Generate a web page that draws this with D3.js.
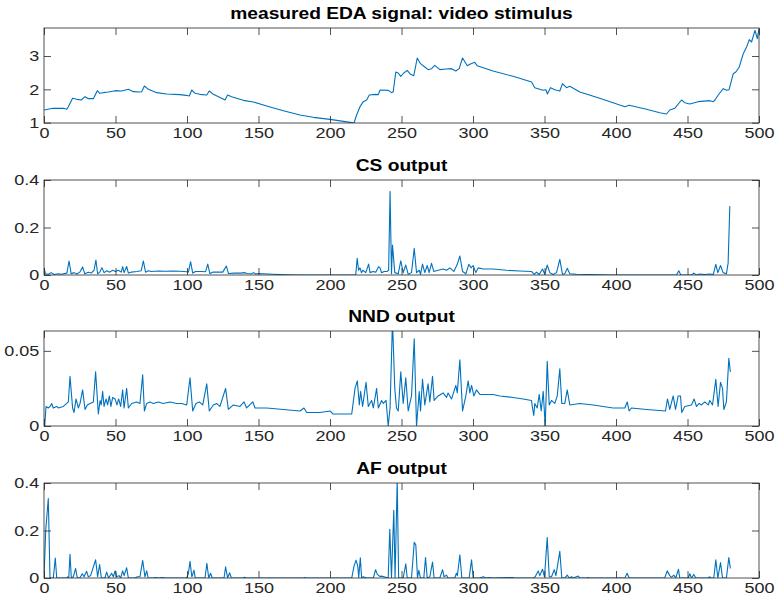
<!DOCTYPE html>
<html>
<head>
<meta charset="utf-8">
<script src="https://cdn.jsdelivr.net/npm/d3@7"></script>
<style>
  body { margin: 0; background: #fff; }
  text { font-family: "Liberation Sans", Arial, Helvetica, sans-serif; }
</style>
</head>
<body>
<svg id="chart"></svg>
<script>
// sample index vs. value
const edaPts = [[0,1.38],[6.5,1.43],[13.5,1.43],[15.9,1.40],[17,1.48],[20,1.73],[23,1.70],[26,1.68],[28.7,1.78],[31,1.72],[34.5,1.72],[37.3,1.96],[39,1.88],[41.5,1.90],[45,1.92],[49.7,1.96],[54.3,1.95],[59,2.0],[62.5,1.93],[67,1.92],[68.3,1.93],[70.2,2.10],[73,2.0],[78.8,1.90],[85.8,1.86],[95,1.84],[99.3,1.82],[101.6,1.80],[103.3,1.98],[105.6,1.88],[109,1.85],[113.8,1.83],[115.6,1.95],[118.4,1.85],[124.2,1.73],[126.6,1.68],[128.4,1.83],[131.2,1.78],[139.4,1.67],[146.4,1.62],[155.7,1.50],[167.4,1.36],[179,1.23],[188.3,1.16],[200,1.10],[215.2,1.00],[216.8,0.99],[218.6,1.23],[221,1.48],[223.3,1.63],[225.6,1.68],[227.5,1.83],[231.5,1.85],[233.8,1.84],[235,1.98],[240.8,1.97],[243,1.90],[244.2,1.93],[246,2.52],[247.7,2.49],[249.5,2.39],[251.6,2.49],[254,2.57],[256.3,2.45],[258.6,2.41],[261,2.94],[263.3,2.77],[266.3,2.67],[268.6,2.59],[271,2.62],[273.3,2.72],[276.8,2.59],[281.5,2.61],[285,2.62],[288,2.55],[290.3,2.62],[292.7,2.94],[296,2.71],[297.8,2.75],[301.2,2.81],[302.9,2.71],[314,2.55],[328,2.39],[341,2.22],[343.2,2.05],[349,1.97],[351,1.99],[352,1.86],[354.2,2.05],[357.2,1.99],[360.7,1.95],[362.6,2.17],[365.4,2.05],[367.7,2.09],[374.7,1.92],[386.4,1.76],[398,1.60],[406.2,1.48],[409.2,1.52],[421.3,1.40],[430.7,1.30],[435.3,1.26],[437.6,1.38],[441.1,1.43],[445.8,1.68],[448.1,1.60],[451.6,1.56],[457.5,1.63],[465.6,1.66],[468,1.63],[469.2,1.68],[471.5,1.83],[475,2.02],[477.4,1.97],[479.1,1.99],[482,2.47],[483.8,2.52],[486.2,2.67],[489,3.07],[491.3,3.27],[493.2,3.49],[494.8,3.42],[497.2,3.77],[498.8,3.52],[500,3.82]];

const csPts = [[0,0.03],[1,0.005],[3,0.003],[5,0.01],[7,0.002],[10,0.005],[12,0.003],[16,0.008],[17.5,0.059],[19,0.005],[21,0.01],[23,0.004],[25,0.012],[27,0.034],[28.5,0.005],[31,0.012],[33,0.008],[35,0.02],[36.3,0.063],[37.5,0.005],[39,0.012],[40.5,0.031],[42,0.01],[44,0.018],[46,0.012],[48,0.02],[50,0.015],[52,0.02],[54,0.012],[55,0.035],[56,0.01],[57.8,0.036],[59,0.008],[61,0.012],[65,0.015],[68,0.018],[69.5,0.059],[71,0.012],[73,0.018],[75,0.015],[80,0.017],[85,0.016],[90,0.017],[95,0.016],[100,0.014],[101,0.012],[102.5,0.056],[104,0.008],[106,0.015],[110,0.015],[113,0.014],[114.5,0.046],[116,0.006],[118,0.012],[122,0.012],[125,0.012],[127.5,0.038],[129,0.006],[133,0.008],[138,0.008],[140,0.01],[142,0.006],[145,0.005],[146.5,0.01],[148,0.004],[150,0.006],[160,0.003],[170,0.001],[180,0],[218,0],[219,0.07],[220,0.02],[221,0.03],[222,0.01],[223,0.02],[225,0.01],[227,0.046],[228,0.01],[230,0.015],[232,0.012],[234,0.035],[235,0.03],[236,0.01],[238,0.015],[240,0.015],[241,0.02],[242,0.352],[243,0.005],[243.7,0.126],[245.3,0.01],[247.7,0.005],[249.5,0.06],[251.2,0.01],[253,0.042],[254.7,0.003],[257,0.01],[258.9,0.112],[260.5,0.01],[262.4,0.02],[263.3,0.003],[264.7,0.046],[266.3,0.01],[268,0.04],[269.3,0.01],[271,0.049],[272.6,0.015],[275.6,0.02],[279.1,0.025],[281.5,0.02],[283.8,0.03],[286.6,0.015],[289,0.045],[290.8,0.08],[292.7,0.015],[295,0.005],[297.1,0.045],[298.7,0.03],[300.1,0.04],[302,0.01],[303.6,0.03],[307.1,0.025],[314.1,0.025],[323.4,0.02],[332.8,0.017],[340.9,0.015],[342.8,0.003],[344.4,0.012],[346.3,0.002],[348.6,0.025],[350.2,0.003],[351.9,0.042],[353.7,0.01],[356,0.002],[358.4,0.01],[360.7,0.066],[362.6,0.003],[364.2,0.005],[365.9,0.028],[367.7,0.005],[372.4,0.003],[381.7,0.002],[398,0],[442.3,0],[443.9,0.018],[445.3,0],[452.8,0],[454.4,0.008],[456.3,0],[458.6,0.004],[462.1,0.002],[465.6,0.004],[468,0.002],[469.8,0.045],[471.2,0.01],[473.1,0.04],[474.9,0.01],[477.2,0.005],[478.4,0.05],[479.6,0.29]];

const nndPts = [[0.5,0],[1.4,0.013],[3,0.012],[4.2,0.013],[5.4,0.015],[6.5,0.012],[8.9,0.013],[10,0.012],[13.5,0.013],[15.9,0.015],[17,0.016],[18.2,0.033],[20,0.012],[21,0.009],[22.4,0.018],[24,0.012],[25.2,0.015],[27,0.024],[28.7,0.011],[30.3,0.014],[32.2,0.015],[34.5,0.016],[36.1,0.036],[38,0.008],[39.2,0.017],[40,0.014],[41,0.023],[42,0.013],[43.4,0.018],[44.5,0.014],[45.7,0.02],[46.8,0.013],[48,0.019],[49.7,0.018],[51,0.014],[52.2,0.018],[53.6,0.013],[55,0.024],[56,0.012],[57.8,0.025],[59,0.012],[61.3,0.015],[64.8,0.016],[67.1,0.015],[69,0.034],[70.2,0.01],[71.8,0.015],[74.1,0.016],[76.5,0.015],[80,0.016],[83.4,0.015],[88,0.016],[92.8,0.015],[96.3,0.015],[99.8,0.014],[102.1,0.032],[104,0.01],[106.3,0.015],[108.6,0.016],[111,0.014],[113.8,0.028],[115.6,0.01],[118.4,0.014],[120.7,0.015],[123,0.013],[127,0.025],[128.9,0.011],[132.4,0.014],[137,0.013],[139.9,0.016],[141.7,0.012],[146,0.016],[147.6,0.012],[155.7,0.012],[167.4,0.011],[179,0.01],[181.8,0.012],[183.7,0.009],[193,0.009],[200,0.01],[202,0.008],[215.2,0.008],[217.5,0.025],[219.1,0.03],[220.5,0.014],[221.4,0.023],[222.8,0.013],[225.2,0.029],[226.8,0.013],[229.1,0.017],[230.3,0.012],[232.6,0.025],[233.8,0.012],[236.1,0.017],[237.3,0.015],[239.2,0.017],[240.7,0],[242,0.012],[243.7,0.07],[245.3,0.025],[246.5,0.012],[247.7,0.01],[249.5,0.036],[251.2,0.015],[253,0.032],[254.7,0.01],[257,0.02],[258.9,0.058],[260.5,0],[262.4,0.023],[263.3,0.01],[264.7,0.031],[266.3,0.014],[268.6,0.028],[269.8,0.016],[271.7,0.033],[272.8,0.017],[275.6,0.02],[279.1,0.022],[281.5,0.019],[282.6,0.022],[285,0.018],[288,0.027],[289,0.022],[290.8,0.044],[292.7,0.01],[295,0.02],[296.6,0.03],[297.8,0.022],[299,0.027],[300.6,0.02],[302.4,0.024],[304.8,0.021],[308.3,0.021],[314.1,0.021],[318.8,0.02],[328.1,0.019],[335.1,0.018],[340.9,0.017],[341.6,0.012],[342.5,0.007],[343.2,0.015],[344.9,0.012],[346.3,0.021],[347.7,0.01],[349.1,0.023],[350.5,0],[351.9,0.043],[353.3,0.014],[354.9,0.017],[357.2,0.015],[358.9,0.02],[360.7,0.038],[362.1,0.015],[364.2,0.015],[365.9,0.024],[367.7,0.014],[374.7,0.015],[384,0.014],[398,0.012],[406.2,0.012],[407.8,0.016],[409.2,0.01],[410.8,0.012],[421.3,0.011],[434.6,0.01],[436,0.018],[437.6,0.011],[440,0.02],[441.6,0.011],[443.5,0.02],[445.1,0.02],[446,0.009],[448.1,0.013],[452.8,0.014],[454.6,0.018],[456.3,0.013],[458.2,0.015],[459.8,0.014],[462.1,0.016],[464.5,0.014],[465.6,0.017],[467.5,0.014],[469.8,0.031],[471.4,0.013],[473.1,0.029],[474.5,0.025],[475.4,0.011],[477.2,0.016],[478.9,0.045],[480,0.036]];

const afPts = [[0,0],[1.2,0.2],[3,0.335],[4.2,0],[6.5,0],[7.9,0.084],[8.9,0],[15.9,0],[16.6,0.005],[17.3,0],[18.2,0.1],[19.1,0],[20.5,0.005],[22.1,0.04],[23.3,0],[25,0],[26.8,0.018],[28,0.005],[29.8,0.028],[31,0.005],[32.6,0.01],[36.1,0.077],[37.5,0.005],[38.9,0.057],[40.1,0],[42.6,0],[43.8,0.025],[45.2,0],[47.3,0.02],[48.5,0.005],[49.7,0.03],[50.8,0.005],[52.5,0.01],[53.6,0],[55,0.03],[56,0.01],[57.8,0.043],[59,0],[63.6,0],[65.3,0.005],[67.1,0.005],[69,0.074],[70.6,0.005],[71.8,0.03],[72.9,0],[76.5,0],[77.6,0.002],[80,0],[83,0.002],[84.6,0],[99.8,0],[101,0.02],[102.1,0.07],[103.4,0.005],[104.9,0.033],[105.8,0],[112.6,0],[113.9,0.062],[115.2,0],[116.5,0.02],[117.6,0],[125.9,0],[127,0.047],[128.4,0],[129.8,0.022],[131,0],[139.4,0],[140.2,0.003],[141.3,0],[181.6,0],[182.3,0.002],[183.4,0],[215.2,0],[216.8,0.05],[218.2,0.075],[219.4,0.05],[220.1,0.002],[221.2,0.085],[222.1,0],[223.3,0.005],[225.6,0],[230.3,0],[231.9,0.035],[233.1,0.015],[234.8,0.007],[236.1,0.008],[240.7,0],[241.8,0.205],[243,0],[244.6,0.285],[245.5,0],[247,0.41],[248,0],[251.2,0],[253,0.06],[254,0],[257,0],[258.9,0.15],[260,0.14],[261.2,0],[262.1,0.032],[263.3,0],[265.6,0],[266.8,0.086],[268,0],[269.8,0.005],[271.7,0.067],[272.8,0],[276.8,0],[278.7,0.035],[279.8,0.005],[281.5,0.012],[282.6,0],[287.3,0],[288.4,0.02],[289.1,0.01],[290.8,0.098],[292.2,0],[297.3,0],[299,0.077],[300.1,0],[304.8,0],[307.1,0.005],[309,0],[311.8,0.002],[312.9,0],[327.9,0.002],[329,0],[342.3,0],[343.5,0.005],[345.6,0.03],[346.7,0.01],[348.6,0.037],[350,0.005],[351.9,0.17],[353.3,0.005],[354.9,0.005],[356.8,0.035],[358,0.01],[360.7,0.112],[362.1,0],[364.2,0],[365.9,0.012],[367.3,0],[368.9,0.005],[370.1,0],[373.6,0.008],[374.7,0],[379.4,0],[380.5,0.002],[381.7,0],[406.2,0],[407.8,0.02],[409.2,0],[434.1,0],[435.8,0.03],[437.6,0.01],[438.8,0.003],[440.4,0.012],[441.8,0],[443.7,0.037],[444.6,0],[450.5,0],[451.6,0.018],[452.8,0],[454.4,0.015],[455.8,0],[464.5,0],[465.2,0.005],[466.4,0],[468.4,0],[469.8,0.077],[471.2,0],[473.1,0.065],[474.5,0],[477.2,0],[478.9,0.086],[480,0.04]];

const titles = ["measured EDA signal: video stimulus", "CS output", "NND output", "AF output"];
const xTicks = [0, 50, 100, 150, 200, 250, 300, 350, 400, 450, 500];
const yTicks = [[1, 2, 3], [0, 0.2, 0.4], [0, 0.05], [0, 0.2, 0.4]];
const yDomains = [[0.99, 3.84], [0, 0.4], [0, 0.0632], [0, 0.4]];
const series = [edaPts, csPts, nndPts, afPts];

const width = 777;
const height = 608;
const left = 44, right = 759;
const tops = [28, 180, 331, 483];
const panelH = 95;
const axisColor = "#262626";
const lineColor = "#0072BD";
// the source figure's text is a little wider than it is tall
const stretch = "scale(1.2,1)";

const svg = d3.select("#chart")
    .attr("width", width)
    .attr("height", height)
    .attr("viewBox", [0, 0, width, height]);

const x = d3.scaleLinear().domain([0, 500]).range([left, right]);

series.forEach((pts, i) => {
    const top = tops[i];
    const y = d3.scaleLinear().domain(yDomains[i]).range([top + panelH, top]);
    const g = svg.append("g");

    g.append("clipPath")
        .attr("id", "clip" + i)
        .append("rect")
        .attr("x", left).attr("y", top)
        .attr("width", right - left).attr("height", panelH);

    const line = d3.line()
        .x(d => x(d[0]))
        .y(d => y(d[1]));

    g.append("path")
        .datum(pts)
        .attr("clip-path", `url(#clip${i})`)
        .attr("fill", "none")
        .attr("stroke", lineColor)
        .attr("stroke-width", 1.1)
        .attr("stroke-linejoin", "round")
        .attr("d", line);

    const fmt = d => String(d);

    // bottom axis with labels, ticks inward
    const xb = g.append("g")
        .attr("transform", `translate(0,${top + panelH})`)
        .call(d3.axisBottom(x).tickValues(xTicks).tickFormat(fmt).tickSize(-7).tickPadding(4));
    // top ticks only
    const xt = g.append("g")
        .attr("transform", `translate(0,${top})`)
        .call(d3.axisTop(x).tickValues(xTicks).tickFormat("").tickSize(-7));
    const yl = g.append("g")
        .attr("transform", `translate(${left},0)`)
        .call(d3.axisLeft(y).tickValues(yTicks[i]).tickFormat(fmt).tickSize(-7).tickPadding(4));
    const yr = g.append("g")
        .attr("transform", `translate(${right},0)`)
        .call(d3.axisRight(y).tickValues(yTicks[i]).tickFormat("").tickSize(-7));

    [xb, xt, yl, yr].forEach(a => {
        a.select(".domain").remove();
        a.selectAll(".tick line").attr("stroke", axisColor).attr("stroke-width", 0.8);
        a.selectAll(".tick text")
            .attr("fill", axisColor)
            .attr("transform", stretch)
            .style("font-size", "15px")
            .style("font-family", "'Liberation Sans', Arial, sans-serif");
    });

    g.append("rect")
        .attr("x", left).attr("y", top)
        .attr("width", right - left).attr("height", panelH)
        .attr("fill", "none")
        .attr("stroke", axisColor)
        .attr("stroke-width", 0.8);

    g.append("g")
        .attr("transform", `translate(${(left + right) / 2},${top - 9})`)
        .append("text")
        .attr("transform", stretch)
        .attr("text-anchor", "middle")
        .attr("fill", "#000")
        .style("font-size", "16px")
        .style("font-weight", "bold")
        .text(titles[i]);
});
</script>
</body>
</html>
